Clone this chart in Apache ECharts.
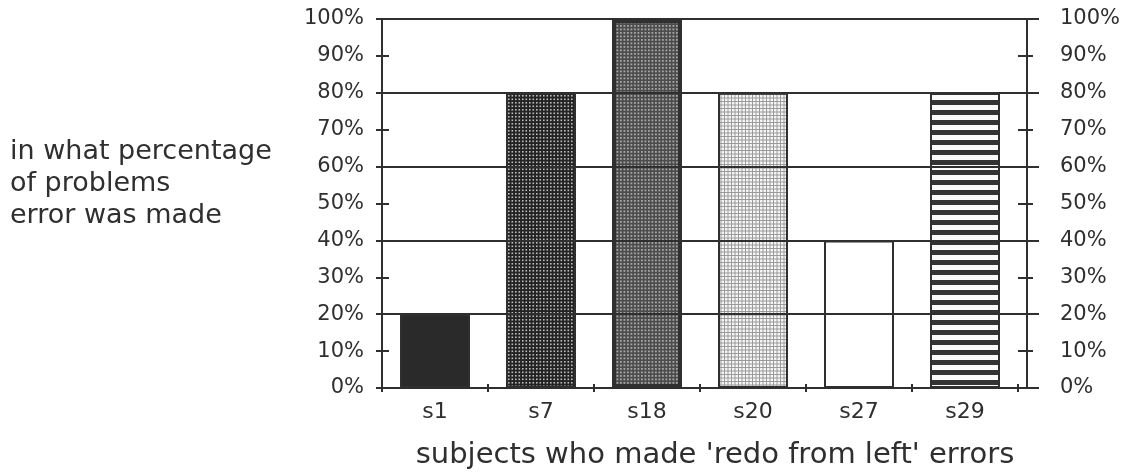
<!DOCTYPE html>
<html>
<head>
<meta charset="utf-8">
<script src="https://cdn.jsdelivr.net/npm/echarts@6/dist/echarts.min.js"></script>
<style>
  html, body { margin: 0; padding: 0; background: #ffffff; }
  #chart { width: 1127px; height: 476px; }
</style>
</head>
<body>
<div id="chart"></div>
<script>
// Subjects and the share of problems in which each made the error
const subjects = ['s1', 's7', 's18', 's20', 's27', 's29'];
const errorPercent = [20, 80, 100, 80, 40, 80];
const yAxisTitle = ['in what percentage', 'of problems', 'error was made'];
const xAxisTitle = "subjects who made 'redo from left' errors";

const FONT = '"DejaVu Sans", Verdana, sans-serif';
const INK = '#2f2f2f';

// Small repeating canvas tiles used as bar fills
function tile(w, h, draw) {
  const c = document.createElement('canvas');
  c.width = w; c.height = h;
  draw(c.getContext('2d'), w, h);
  return c;
}
function dotTile(bg, dot, size) {
  return tile(7, 7, (g, w, h) => {
    g.fillStyle = bg; g.fillRect(0, 0, w, h);
    g.fillStyle = dot;
    [0.5, 4].forEach(x => [0.5, 4].forEach(y => g.fillRect(x, y, size, size)));
  });
}
function stripeTile(dark, light) {
  return tile(10, 10, (g, w, h) => {
    g.fillStyle = light; g.fillRect(0, 0, w, h);
    g.fillStyle = dark; g.fillRect(0, 0, w, 5);
  });
}
const pat = c => ({ image: c, repeat: 'repeat' });

const barStyles = [
  { color: '#2a2a2a', borderColor: INK, borderWidth: 2 },
  { color: pat(dotTile('#232323', '#bdbdbd', 1.6)), borderColor: INK, borderWidth: 2 },
  { color: pat(dotTile('#4c4c4c', '#a6a6a6', 1.8)), borderColor: '#303030', borderWidth: 4 },
  { color: pat(dotTile('#9a9a9a', '#f6f6f6', 2.5)), borderColor: INK, borderWidth: 2 },
  { color: '#ffffff', borderColor: INK, borderWidth: 2 },
  { color: pat(stripeTile('#333333', '#fafafa')), borderColor: INK, borderWidth: 2 }
];

const lineStyle = { color: INK, width: 2 };
const base = { type: 'value', min: 0, max: 100, interval: 10, z: 10 };
const noLabel = { show: false };
const noSplit = { show: false };

const option = {
  backgroundColor: '#ffffff',
  animation: false,
  textStyle: { fontFamily: FONT },
  grid: { left: 382, right: 109, top: 19, bottom: 88, containLabel: false },
  xAxis: [
    {
      type: 'category', data: subjects, position: 'bottom', z: 10,
      axisLine: { show: true, lineStyle },
      axisTick: { show: true, length: 4, lineStyle },
      axisLabel: { color: INK, fontSize: 22, margin: 13, fontFamily: FONT },
      splitLine: noSplit
    },
    {
      type: 'category', data: subjects, position: 'bottom', z: 10,
      axisLine: { show: false },
      axisTick: { show: true, inside: true, length: 4, lineStyle },
      axisLabel: noLabel,
      splitLine: noSplit
    }
  ],
  yAxis: [
    { // left axis with labels, outward ticks
      ...base, position: 'left',
      axisLine: { show: true, lineStyle },
      axisTick: { show: true, length: 6, lineStyle },
      axisLabel: { formatter: '{value}%', color: INK, fontSize: 21, margin: 18, fontFamily: FONT },
      splitLine: noSplit
    },
    { // left inward ticks
      ...base, position: 'left',
      axisLine: { show: false },
      axisTick: { show: true, inside: true, length: 7, lineStyle },
      axisLabel: noLabel, splitLine: noSplit
    },
    { // right axis with labels
      ...base, position: 'right', offset: 9,
      axisLine: { show: true, lineStyle },
      axisTick: { show: true, length: 6, lineStyle },
      axisLabel: { formatter: '{value}%', color: INK, fontSize: 21, margin: 33, fontFamily: FONT },
      splitLine: noSplit
    },
    { // right inward ticks
      ...base, position: 'right', offset: 9,
      axisLine: { show: false },
      axisTick: { show: true, inside: true, length: 9, lineStyle },
      axisLabel: noLabel, splitLine: noSplit
    },
    { // major gridlines every 20%
      ...base, interval: 20, position: 'right', offset: 9,
      axisLine: { show: false },
      axisTick: { show: true, length: 12, lineStyle },
      axisLabel: noLabel,
      splitLine: { show: true, lineStyle }
    }
  ],
  graphic: [
    {
      type: 'text', left: 10, top: 136,
      style: { text: yAxisTitle.join('\n'), fill: INK, font: '27px ' + FONT, lineHeight: 32 }
    },
    {
      type: 'text', x: 715, y: 455,
      style: { text: xAxisTitle, fill: INK, font: '29px ' + FONT, align: 'center', verticalAlign: 'middle' }
    }
  ],
  series: [
    {
      type: 'bar', xAxisIndex: 0, yAxisIndex: 0, barWidth: 70, z: 2,
      data: errorPercent.map((v, i) => ({ value: v, itemStyle: barStyles[i] }))
    }
  ]
};

const chart = echarts.init(document.getElementById('chart'), null, { renderer: 'canvas' });
chart.setOption(option);
</script>
</body>
</html>
